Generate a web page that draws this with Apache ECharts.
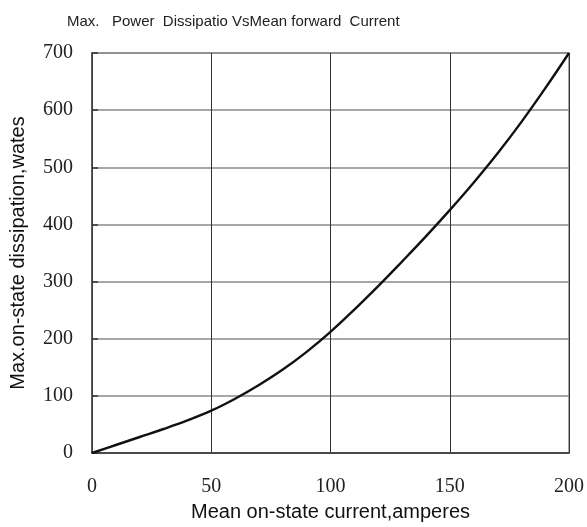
<!DOCTYPE html>
<html>
<head>
<meta charset="utf-8">
<script src="https://cdn.jsdelivr.net/npm/echarts@6/dist/echarts.min.js"></script>
<style>
  html, body { margin: 0; padding: 0; background: #fff; }
  #chart { width: 587px; height: 527px; }
</style>
</head>
<body>
<div id="chart"></div>
<script>
// mean on-state current (A) vs max dissipation (W)
const current = [0, 10, 20, 30, 40, 50, 60, 70, 80, 90, 100, 110, 120, 130, 140, 150, 160, 170, 180, 190, 200]
const dissipation = [0, 14, 28, 42, 57, 74, 95, 119, 146, 177, 212, 251, 292, 335, 379, 425, 473, 524, 579, 638, 700]

const xTicks = [0, 50, 100, 150, 200]
const yTicks = [0, 100, 200, 300, 400, 500, 600, 700]

const chart = echarts.init(document.getElementById('chart'))

const option = {
  animation: false,
  title: {
    text: 'Max.   Power  Dissipatio VsMean forward  Current',
    left: 62,
    top: 9,
    textStyle: {
      fontFamily: 'Liberation Sans Narrow, Liberation Sans, sans-serif',
      fontSize: 15,
      fontWeight: 'normal',
      color: '#222'
    }
  },
  grid: {
    left: 91,
    right: 17,
    top: 53,
    bottom: 73,
    show: true,
    borderColor: '#8a8a8a',
    borderWidth: 1.5
  },
  xAxis: {
    type: 'value',
    min: 0,
    max: 200,
    interval: 50,
    name: 'Mean on-state current,amperes',
    nameLocation: 'middle',
    nameGap: 49,
    nameTextStyle: { fontFamily: 'Liberation Sans, Arial, sans-serif', fontSize: 20, color: '#111' },
    axisLine: { lineStyle: { color: '#333', width: 1.5 } },
    axisTick: { show: false },
    axisLabel: {
      margin: 24,
      fontFamily: 'Liberation Serif, Times New Roman, serif',
      fontSize: 20,
      color: '#222',
      formatter: v => xTicks.includes(v) ? String(v) : ''
    },
    splitLine: { lineStyle: { color: '#333', width: 1 } }
  },
  yAxis: {
    type: 'value',
    min: 0,
    max: 700,
    interval: 100,
    name: 'Max.on-state dissipation,wates',
    nameLocation: 'middle',
    nameGap: 64,
    nameTextStyle: { fontFamily: 'Liberation Sans, Arial, sans-serif', fontSize: 20, color: '#111' },
    axisLine: { lineStyle: { color: '#444', width: 1.5 } },
    axisTick: { show: true, inside: true, length: 6, lineStyle: { color: '#333', width: 1.5 } },
    axisLabel: {
      margin: 19,
      fontFamily: 'Liberation Serif, Times New Roman, serif',
      fontSize: 20,
      color: '#222',
      formatter: v => yTicks.includes(v) ? String(v) : ''
    },
    splitLine: { lineStyle: { color: '#8a8a8a', width: 1.5 } }
  },
  series: [
    {
      type: 'line',
      data: current.map((c, i) => [c, dissipation[i]]),
      smooth: 0.4,
      showSymbol: false,
      lineStyle: { color: '#111', width: 2.4 }
    }
  ]
}

chart.setOption(option)
</script>
</body>
</html>
